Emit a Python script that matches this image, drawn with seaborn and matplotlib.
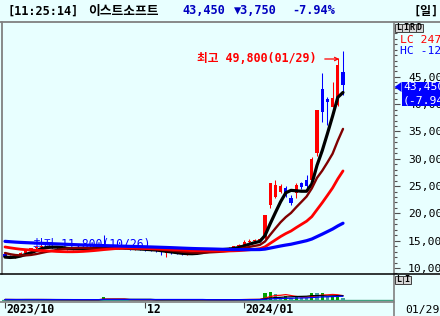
import numpy as np
import pandas as pd
import matplotlib
matplotlib.use("Agg")
import matplotlib.pyplot as plt
import seaborn as sns
from matplotlib.patches import Rectangle, Polygon, FancyArrowPatch
from matplotlib.lines import Line2D

# ---------------- data ----------------
dates = ["10/25", "10/26", "10/27", "10/30", "10/31",
         "11/01", "11/02", "11/03", "11/06", "11/07", "11/08", "11/09", "11/10",
         "11/13", "11/14", "11/15", "11/16", "11/17", "11/20", "11/21", "11/22",
         "11/23", "11/24", "11/27", "11/28", "11/29", "11/30",
         "12/01", "12/04", "12/05", "12/06", "12/07", "12/08", "12/11", "12/12",
         "12/13", "12/14", "12/15", "12/18", "12/19", "12/20", "12/21", "12/22",
         "12/26", "12/27", "12/28",
         "01/02", "01/03", "01/04", "01/05", "01/08", "01/09", "01/10", "01/11",
         "01/12", "01/15", "01/16", "01/17", "01/18", "01/19", "01/22", "01/23",
         "01/24", "01/25", "01/26", "01/29"]

opens = [12500, 12100, 12000, 12300, 12800,
         13300, 13600, 13900, 14100, 13800, 13700, 13600, 13500,
         13400, 13500, 13600, 13700, 13600, 13500, 14200, 13800,
         13700, 13700, 13600, 13500, 13400, 13500,
         13400, 13300, 13200, 13100, 12700, 12800, 12700, 12600,
         12500, 12600, 12700, 13000, 13300, 13400, 13400, 13300,
         13500, 13700, 14000,
         14300, 14800, 15000, 15100, 15500, 21500, 23000, 24000,
         24600, 22800, 23700, 25600, 26100, 26100, 31000, 42800,
         40900, 39500, 39900, 45900]
highs = [12600, 12300, 12400, 12900, 13400,
         13700, 14000, 14300, 14200, 13900, 13800, 13700, 13600,
         13600, 13700, 13800, 13800, 13700, 13700, 16000, 13900,
         13800, 13800, 13700, 13600, 13600, 13600,
         13500, 13400, 13300, 13200, 12900, 12900, 12800, 12700,
         12700, 12900, 13100, 13400, 13500, 13600, 13500, 13600,
         13800, 14100, 14400,
         15100, 15300, 15400, 15500, 19700, 25600, 26100, 25300,
         25000, 23400, 25500, 25800, 27000, 30300, 39000, 45700,
         41300, 44000, 48500, 49800]
lows = [12000, 11800, 11900, 12200, 12700,
        13200, 13500, 13800, 13700, 13600, 13500, 13400, 13300,
        13300, 13400, 13500, 13500, 13400, 13400, 13700, 13600,
        13500, 13500, 13400, 13300, 13300, 13300,
        13200, 13100, 13000, 12300, 12000, 12600, 12500, 12400,
        12400, 12500, 12600, 12900, 13200, 13300, 13200, 13200,
        13400, 13600, 13900,
        14200, 14600, 14800, 14900, 15300, 21000, 22900, 23700,
        23000, 21600, 22900, 24400, 24600, 25800, 30500, 36700,
        36200, 39400, 39700, 41700]
closes = [12100, 11950, 12300, 12800, 13300,
          13600, 13900, 14100, 13800, 13700, 13600, 13500, 13400,
          13500, 13600, 13700, 13600, 13500, 13600, 13800, 13700,
          13700, 13600, 13500, 13400, 13500, 13400,
          13300, 13200, 13100, 12900, 12800, 12700, 12600, 12500,
          12600, 12700, 13000, 13300, 13400, 13400, 13300, 13500,
          13700, 14000, 14300,
          14800, 15000, 15100, 15160, 19700, 25600, 25200, 25000,
          23400, 21900, 25200, 24800, 25000, 30000, 39000, 38600,
          40400, 41100, 47200, 43450]
# closes before the visible window (needed for the moving averages at the left edge)
pre_closes = [16200, 16300, 16100, 16000, 16200, 16400, 16300, 16100, 15900, 15800,
              15900, 16000, 15800, 15700, 15600, 15500, 15600, 15400, 15300, 15200,
              15300, 15400, 15200, 15100, 15000, 14900, 15000, 15100, 14900, 14800,
              14700, 14800, 14900, 15000, 14900, 14800, 14700, 14600, 14700, 14800,
              15000, 15100, 15200, 15000, 14900, 14800, 15000, 14900, 14800, 14800,
              14200, 13800, 13500, 13200, 12800,
              12300, 12000, 11800, 11800]
volumes = [500, 450, 400, 450, 500,
           500, 450, 400, 350, 350, 300, 300, 300,
           300, 300, 300, 300, 300, 300, 3500, 600,
           400, 350, 300, 300, 300, 300,
           300, 300, 300, 400, 450, 300, 300, 300,
           300, 300, 300, 350, 300, 300, 300, 300,
           350, 400, 500,
           800, 700, 600, 700, 6700, 8300, 6000, 2000,
           4000, 2000, 4000, 2000, 2000, 6700, 6700, 7300,
           3000, 4000, 5000, 2500]

ma_windows = [5, 10, 20, 60]
vol_ma_windows = [5, 10, 20]
price_ticks = [10000, 15000, 20000, 25000, 30000, 35000, 40000, 45000]
date_tick_dates = ["10/25", "12/01", "01/02"]
date_tick_labels = ["2023/10", "12", "2024/01"]

title_time = "[11:25:14]"
title_name = "이스트소프트"
title_price = "43,450"
title_change = "▼3,750"
title_pct = "-7.94%"
title_period = "[일]"
high_note = "최고 49,800(01/29)"
low_note = "최저 11,800(10/26)"
last_price_label = "43,450"
last_pct_label = "(-7.94"
lc_label = "LC 247,"
hc_label = "HC -12,"
last_date_label = "01/29"

# ---------------- styles ----------------
W, H = 440, 316
BG = "#E8FFFF"
RED = "#FF0000"
BLUE = "#0000FF"
MA_COLORS = ["#000000", "#800000", "#FF0000", "#0000FF"]
MA_LW = [2.3, 1.7, 2.0, 2.3]
VOL_MA_COLORS = ["#FF0000", "#000000", "#0000FF"]
GRAY = "#808080"

sns.set_theme(style="white")
plt.rcParams["font.family"] = ["DejaVu Sans Mono", "Noto Sans CJK KR"]
plt.rcParams["axes.unicode_minus"] = False


def fx(x):
    return x / W


def fy(y):
    return 1 - y / H


fig = plt.figure(figsize=(W / 100, H / 100), dpi=100)
fig.patch.set_facecolor(BG)

X0, X1 = 2, 394
ax = fig.add_axes([fx(X0), fy(274), fx(X1) - fx(X0), fy(22) - fy(274)])
axv = fig.add_axes([fx(X0), fy(302), fx(X1) - fx(X0), fy(274) - fy(302)])

n = len(closes)
xs = np.arange(n)
o = np.array(opens, float)
c = np.array(closes, float)
hi = np.array(highs, float)
lo = np.array(lows, float)

# price-axis mapping: 10,000 at px 268, 183.15 won per px
won_per_px = 183.15
ylo = 10000 - (274 - 268) * won_per_px
yhi = 10000 + (268 - 22) * won_per_px
step = 5.2
xlo = (X0 - 5) / step
xhi = (X1 - 5) / step

for a in (ax, axv):
    a.set_facecolor(BG)
    a.set_xlim(xlo, xhi)
    for s in a.spines.values():
        s.set_visible(False)
ax.set_ylim(ylo, yhi)

# candles
up = c >= o
ccol = np.where(up, RED, BLUE)
ax.vlines(xs, lo, hi, colors=ccol, linewidth=0.75, zorder=2)
body_b = np.minimum(o, c)
body_h = np.maximum(np.abs(c - o), 180)
ax.bar(xs, body_h, bottom=body_b, width=0.6, color=ccol, linewidth=0, zorder=2)

# low note (drawn under the lines)
ax.text(fx(33), fy(245), low_note, transform=fig.transFigure, color=BLUE,
        fontsize=8.3, va="center", ha="left", zorder=1.5)

# moving averages
all_close = pd.Series(pre_closes + closes, dtype=float)
k = len(pre_closes)
for w, col, lw in zip(ma_windows, MA_COLORS, MA_LW):
    ma = all_close.rolling(w).mean().iloc[k:].to_numpy()
    df = pd.DataFrame({"i": xs, "v": ma})
    sns.lineplot(data=df, x="i", y="v", color=col, linewidth=lw, ax=ax, zorder=3)

ax.set_xlabel("")
ax.set_ylabel("")
ax.set_xticks([])

# right price axis
ax.yaxis.tick_right()
ax.set_yticks(price_ticks)
ax.set_yticklabels([f"{v:,}" for v in price_ticks])
ax.set_yticks(np.arange(9000, 55001, 1000), minor=True)
ax.tick_params(axis="y", which="major", direction="out", length=4.5, width=0.8,
               color="#505050", labelsize=8.2, pad=5.5, labelcolor="black", right=True)
ax.tick_params(axis="y", which="minor", direction="out", length=2.5, width=0.8,
               color="#505050", right=True)

# volume panel
vol = np.array(volumes, float)
vcol = ["#00A000" if (i > 0 and vol[i] > vol[i - 1]) else "#40A0A0" for i in range(n)]
axv.bar(xs, vol, width=0.6, color=vcol, linewidth=0, zorder=2)
axv.axhline(0, color="#40A080", linewidth=1.0, zorder=1)
vs = pd.Series(vol)
for w, col in zip(vol_ma_windows, VOL_MA_COLORS):
    vm = vs.rolling(w, min_periods=1).mean().to_numpy()
    sns.lineplot(x=xs, y=vm, color=col, linewidth=0.9, ax=axv, zorder=3)
axv.set_ylim(-2000, 26000)
axv.set_yticks([])
axv.set_ylabel("")
axv.set_xlabel("")
tick_pos = [dates.index(d) for d in date_tick_dates]
axv.set_xticks(tick_pos)
axv.set_xticklabels([])
axv.tick_params(axis="x", direction="out", length=4, width=0.8, color="#404040",
                bottom=True, labelbottom=False)

# date labels just right of their ticks
for p, lab in zip(tick_pos, date_tick_labels):
    px = 5 + p * step
    fig.text(fx(px + 1.5), fy(309.5), lab, fontsize=8.3, fontweight="bold",
             color="black", ha="left", va="center")


# frame lines
def hline(y, x0, x1, color, lw):
    fig.add_artist(Line2D([fx(x0), fx(x1)], [fy(y), fy(y)], transform=fig.transFigure,
                          color=color, linewidth=lw))


def vline(x, y0, y1, color, lw):
    fig.add_artist(Line2D([fx(x), fx(x)], [fy(y0), fy(y1)], transform=fig.transFigure,
                          color=color, linewidth=lw))


hline(21.8, 0, 440, GRAY, 1.3)
vline(2.2, 22, 274, GRAY, 1.3)
vline(394.2, 22, 316, GRAY, 1.2)
hline(273.8, 0, 440, "black", 1.1)
hline(301.8, 0, 394, GRAY, 1.2)

# title bar
ty = 11
bold = dict(fontweight="bold", va="center", ha="left", fontsize=8.6)
fig.text(fx(7), fy(ty), title_time, color="black", **bold)
fig.text(fx(88), fy(ty), title_name, color="black", fontsize=9.2, va="center",
         ha="left", family=["Noto Sans CJK KR"], fontweight="bold")
fig.text(fx(182), fy(ty), title_price, color="#0000C0", **bold)
fig.text(fx(234), fy(ty), title_change, color="#0000C0", **bold)
fig.text(fx(292), fy(ty), title_pct, color="#0000C0", **bold)
fig.text(fx(413), fy(ty), title_period, color="black", **bold)

# high annotation
fig.text(fx(197), fy(59), high_note, color=RED, fontsize=8.4, fontweight="bold",
         va="center", ha="left")
fig.add_artist(FancyArrowPatch(
    (fx(322), fy(59)), (fx(342), fy(59)), transform=fig.transFigure,
    arrowstyle="->", mutation_scale=6, color=RED, linewidth=0.9))

# LIRD buttons
for j, ch in enumerate("LIRD"):
    x0 = 395 + j * 7
    fig.add_artist(Rectangle((fx(x0), fy(32)), 6.5 / W, 8 / H, transform=fig.transFigure,
                             facecolor="#D8D8D8", edgecolor="#404040", linewidth=0.7))
    fig.text(fx(x0 + 3.3), fy(28), ch, fontsize=6, fontweight="bold", ha="center",
             va="center", color="black")
for j, ch in enumerate("LI"):
    x0 = 395 + j * 8
    fig.add_artist(Rectangle((fx(x0), fy(284)), 7.5 / W, 8 / H, transform=fig.transFigure,
                             facecolor="#D8D8D8", edgecolor="#404040", linewidth=0.7))
    fig.text(fx(x0 + 3.8), fy(280), ch, fontsize=6, fontweight="bold", ha="center",
             va="center", color="black")

fig.text(fx(400), fy(40.5), lc_label, color=RED, fontsize=8.2, va="center", ha="left")
fig.text(fx(400), fy(51), hc_label, color=BLUE, fontsize=8.2, va="center", ha="left")

# last price tag
tag = Rectangle((fx(401.5), fy(106)), (440 - 401.5) / W, 24 / H,
                transform=fig.transFigure, facecolor="#0000FF", edgecolor="none")
tag.set_zorder(5)
fig.add_artist(tag)
tri = Polygon([(fx(394.5), fy(87)), (fx(401.5), fy(82)), (fx(401.5), fy(92))],
              closed=True, transform=fig.transFigure, facecolor="#0000FF", edgecolor="none")
tri.set_zorder(5)
fig.add_artist(tri)
fig.text(fx(403), fy(87.5), last_price_label, color="white", fontsize=8.2, va="center",
         ha="left", zorder=6)
fig.text(fx(403), fy(100.5), last_pct_label, color="white", fontsize=8.2, va="center",
         ha="left", zorder=6)

fig.text(fx(405), fy(309.5), last_date_label, color="black", fontsize=8.2, va="center",
         ha="left")

fig.savefig("out.png", dpi=100, facecolor=fig.get_facecolor())
